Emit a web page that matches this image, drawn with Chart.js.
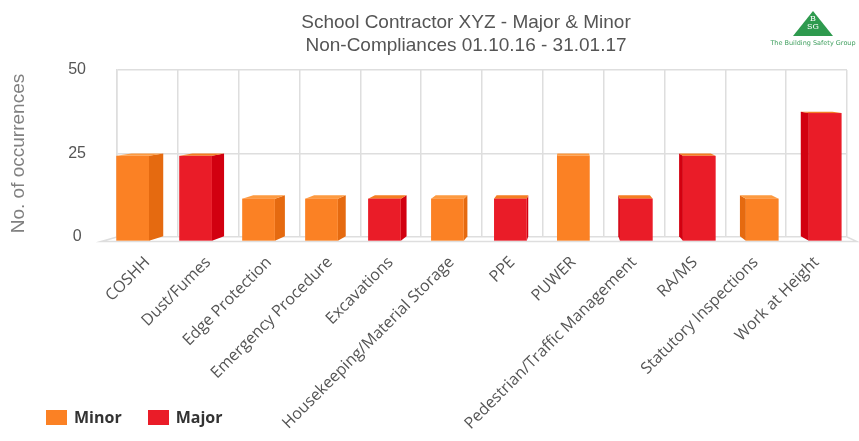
<!DOCTYPE html>
<html>
<head>
<meta charset="utf-8">
<script src="https://cdn.jsdelivr.net/npm/chart.js@4.4.0/dist/chart.umd.min.js"></script>
<style>
    html, body { margin: 0; padding: 0; background: #fff; }
    #wrap { position: relative; width: 859px; height: 441px; overflow: hidden; }
    #chart { position: absolute; left: 0; top: 0; }
    #title {
        position: absolute; left: 266px; top: 10px; width: 400px;
        text-align: center; font-family: "Liberation Sans", Arial, sans-serif;
        font-size: 19px; line-height: 23px; color: #555;
    }
    #logo { position: absolute; left: 770px; top: 11px; width: 86px; text-align: center; }
    #logo .tri {
        width: 0; height: 0; margin: 0 auto;
        border-left: 20px solid transparent; border-right: 20px solid transparent;
        border-bottom: 25px solid #2e9a4e; position: relative;
    }
    #logo .bsg {
        position: absolute; left: -10px; top: 4px; width: 20px; text-align: center;
        font-family: "DejaVu Serif", serif; font-size: 8px; line-height: 8px; color: #fff;
    }
    #logo .name {
        font-family: "DejaVu Sans", sans-serif; font-size: 6.5px; color: #3f9f5e;
        margin-top: 3px; white-space: nowrap;
    }
    #legend { position: absolute; left: 46px; top: 406px; display: flex; }
    #legend .item { display: flex; align-items: center; margin-right: 26px; }
    #legend .box { width: 21px; height: 15px; margin-right: 7px; }
    #legend .label {
        font-family: "Open Sans", sans-serif; font-weight: bold; font-size: 16px; color: #333;
    }
</style>
</head>
<body>
<div id="wrap">
    <canvas id="chart" width="859" height="441"></canvas>
    <div id="title">School Contractor XYZ - Major &amp; Minor<br>Non-Compliances 01.10.16 - 31.01.17</div>
    <div id="logo">
        <div class="tri"><div class="bsg">B<br>SG</div></div>
        <div class="name">The Building Safety Group</div>
    </div>
    <div id="legend"></div>
</div>
<script>
// Chart data
const categories = ['COSHH', 'Dust/Fumes', 'Edge Protection', 'Emergency Procedure', 'Excavations',
    'Housekeeping/Material Storage', 'PPE', 'PUWER', 'Pedestrian/Traffic Management', 'RA/MS',
    'Statutory Inspections', 'Work at Height'];
const minorValues = [25, null, 12.5, 12.5, null, 12.5, null, 25, null, null, 12.5, null];
const majorValues = [null, 25, null, null, 12.5, null, 12.5, null, 12.5, 25, null, 37.5];
const seriesNames = ['Minor', 'Major'];
const yTicks = [0, 25, 50];

// Colours: front, side, top
const seriesColors = [
    { front: '#fb8124', side: '#e56a10', top: '#fd9a40' },
    { front: '#ea1c28', side: '#d20010', top: '#f47d22' }
];

const gridColor = '#dedede';

// Draw bars as simple 3D blocks, seen from a point in front of the chart
const bar3dPlugin = {
    id: 'bar3d',
    beforeDatasetsDraw(chart) {
        const ctx = chart.ctx;
        const area = chart.chartArea;
        const vx = 570, vy = 60, kx = 0.035, ky = 0.025;
        const fwd = (px, py) => [px + kx * (px - vx), py + ky * (py - vy)];

        // Floor front edge
        const base = chart.scales.y.getPixelForValue(0);
        const fl = fwd(area.left, base);
        const fr = fwd(area.right, base);
        ctx.save();
        ctx.strokeStyle = gridColor;
        ctx.lineWidth = 1.5;
        ctx.beginPath();
        ctx.moveTo(area.left, base);
        ctx.lineTo(fl[0], fl[1]);
        ctx.lineTo(fr[0], fr[1]);
        ctx.lineTo(area.right, base);
        ctx.stroke();

        chart.data.datasets.forEach((ds, i) => {
            const meta = chart.getDatasetMeta(i);
            const col = seriesColors[i];
            meta.data.forEach((bar, j) => {
                if (ds.data[j] == null) return;
                const p = bar.getProps(['x', 'y', 'base', 'width'], true);
                const l = p.x - p.width / 2, r = p.x + p.width / 2;
                const bTL = [l, p.y], bTR = [r, p.y], bBL = [l, p.base], bBR = [r, p.base];
                const fTL = fwd(l, p.y), fTR = fwd(r, p.y), fBL = fwd(l, p.base), fBR = fwd(r, p.base);

                // Side face
                ctx.fillStyle = col.side;
                ctx.beginPath();
                if (p.x < vx) {
                    ctx.moveTo(fTR[0], fTR[1]); ctx.lineTo(bTR[0], bTR[1]);
                    ctx.lineTo(bBR[0], bBR[1]); ctx.lineTo(fBR[0], fBR[1]);
                } else {
                    ctx.moveTo(fTL[0], fTL[1]); ctx.lineTo(bTL[0], bTL[1]);
                    ctx.lineTo(bBL[0], bBL[1]); ctx.lineTo(fBL[0], fBL[1]);
                }
                ctx.closePath();
                ctx.fill();

                // Top face
                ctx.fillStyle = col.top;
                ctx.beginPath();
                ctx.moveTo(fTL[0], fTL[1]); ctx.lineTo(fTR[0], fTR[1]);
                ctx.lineTo(bTR[0], bTR[1]); ctx.lineTo(bTL[0], bTL[1]);
                ctx.closePath();
                ctx.fill();

                // Front face
                ctx.fillStyle = col.front;
                ctx.fillRect(fTL[0], fTL[1], fTR[0] - fTL[0], fBL[1] - fTL[1]);
            });
        });
        ctx.restore();
        return false;
    }
};

// Build legend
function buildLegend() {
    const legend = document.getElementById('legend');
    legend.innerHTML = seriesNames.map((name, i) => `
        <div class="item">
            <div class="box" style="background:${seriesColors[i].front}"></div>
            <span class="label">${name}</span>
        </div>
    `).join('');
}

function createChart() {
    const ctx = document.getElementById('chart');

    new Chart(ctx, {
        type: 'bar',
        data: {
            labels: categories,
            datasets: [
                { label: seriesNames[0], data: minorValues, backgroundColor: seriesColors[0].front },
                { label: seriesNames[1], data: majorValues, backgroundColor: seriesColors[1].front }
            ]
        },
        options: {
            responsive: false,
            animation: false,
            layout: { padding: { top: 70, right: 12, left: 0, bottom: 0 } },
            datasets: { bar: { categoryPercentage: 1, barPercentage: 0.52 } },
            plugins: {
                legend: { display: false },
                title: { display: false },
                tooltip: { enabled: false }
            },
            scales: {
                x: {
                    stacked: true,
                    grid: { color: gridColor, lineWidth: 1.5, drawTicks: false, offset: true },
                    border: { display: false },
                    ticks: {
                        autoSkip: false,
                        minRotation: 45,
                        maxRotation: 45,
                        padding: 16,
                        color: '#555',
                        font: { family: 'Open Sans', size: 16 }
                    },
                    afterFit: function (scale) {
                        scale.height = 204;
                        scale.paddingLeft = 0;
                        scale.paddingRight = 0;
                    }
                },
                y: {
                    stacked: true,
                    min: 0,
                    max: 50,
                    afterBuildTicks: function (scale) {
                        scale.ticks = yTicks.map(v => ({ value: v }));
                    },
                    grid: { color: gridColor, lineWidth: 1.5, drawTicks: false },
                    border: { color: gridColor, width: 1.5 },
                    ticks: {
                        crossAlign: 'center',
                        padding: 31,
                        color: '#555',
                        font: { family: 'Liberation Sans', size: 16 }
                    },
                    title: {
                        display: true,
                        text: 'No. of occurrences',
                        color: '#808080',
                        padding: { top: 7, bottom: 0 },
                        font: { family: 'Liberation Sans', size: 19 }
                    },
                    afterFit: function (scale) {
                        scale.width = 117;
                    }
                }
            }
        },
        plugins: [bar3dPlugin]
    });
}

document.addEventListener('DOMContentLoaded', function () {
    buildLegend();
    createChart();
});
</script>
</body>
</html>
